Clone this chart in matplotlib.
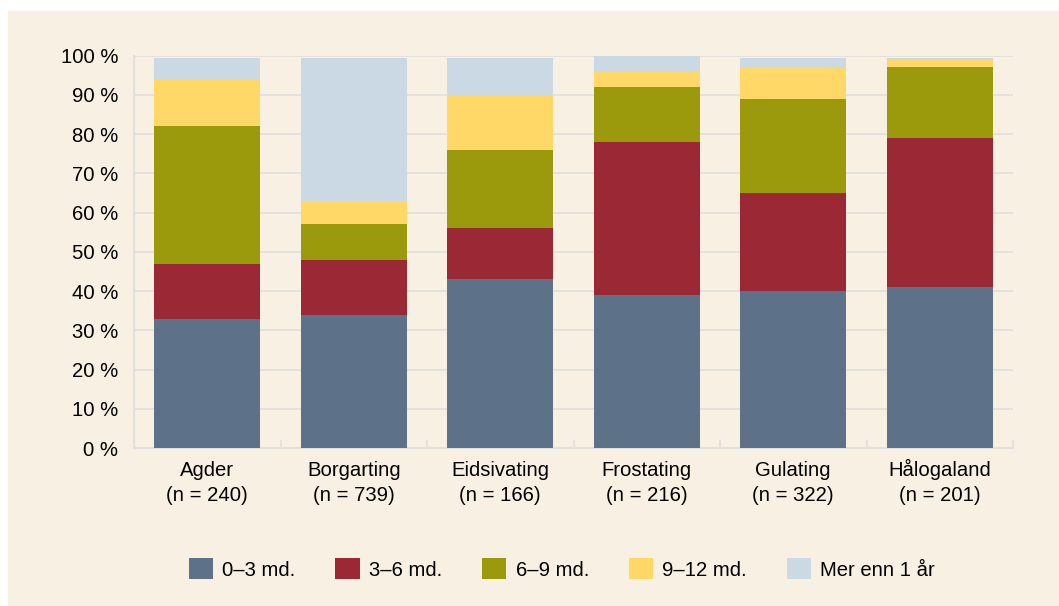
import matplotlib
matplotlib.use('Agg')
import matplotlib.pyplot as plt
import numpy as np
from matplotlib.patches import Rectangle, Patch

plt.rcParams['font.family'] = ['Liberation Sans', 'DejaVu Sans']

# Data (share of cases in %)
courts = ['Agder', 'Borgarting', 'Eidsivating', 'Frostating', 'Gulating', 'Hålogaland']
counts = [240, 739, 166, 216, 322, 201]
series = ['0–3 md.', '3–6 md.', '6–9 md.', '9–12 md.', 'Mer enn 1 år']
m0_3 = [33, 34, 43, 39, 40, 41]
m3_6 = [14, 14, 13, 39, 25, 38]
m6_9 = [35, 9, 20, 14, 24, 18]
m9_12 = [12, 6, 14, 4, 8, 2]
over_1y = [5.5, 36.5, 9.5, 4, 2.5, 0.5]
yticks = list(range(0, 101, 10))

colors = ['#5D7289', '#9B2835', '#9B990C', '#FFD868', '#CBD9E5']
bg = '#F8F0E2'
grid_col = '#E2DFDC'
fs = 14.6

fig = plt.figure(figsize=(10.59, 6.06), dpi=100, facecolor='white')
# cream panel with a thin white margin top/left
fig.patches.append(Rectangle((8 / 1059, 0), 1, 1 - 11 / 606, transform=fig.transFigure,
                             facecolor=bg, edgecolor='none', zorder=-10))

ax_h = (448 - 55.7) / 606
ax = fig.add_axes([134 / 1059, 1 - 448 / 606, 879 / 1059, ax_h])
ax.set_facecolor(bg)

x = np.arange(len(courts))
bottom = np.zeros(len(courts))
for vals, col, name in zip([m0_3, m3_6, m6_9, m9_12, over_1y], colors, series):
    ax.bar(x, vals, width=0.724, bottom=bottom, color=col, label=name, zorder=3)
    bottom += np.array(vals)

ax.set_xlim(-0.5, len(courts) - 0.5)
ax.set_ylim(0, 100)
ax.set_yticks(yticks)
ax.set_yticklabels([f'{v} %' for v in yticks], fontsize=fs)
ax.tick_params(axis='y', length=0, pad=11.5)
ax.yaxis.grid(True, color=grid_col, linewidth=1.2, zorder=0)

# category labels: two lines, baseline-aligned so "Hålogaland" sits level with the rest
ax.set_xticks(x)
ax.set_xticklabels([])
ax.tick_params(axis='x', which='major', length=0)
px_to_ax = 1 / (ax_h * 606)
for xi, c, n in zip(x, courts, counts):
    ax.text(xi, -28 * px_to_ax, c, transform=ax.get_xaxis_transform(),
            ha='center', va='baseline', fontsize=fs)
    ax.text(xi, -53 * px_to_ax, f'(n = {n})', transform=ax.get_xaxis_transform(),
            ha='center', va='baseline', fontsize=fs)
ax.set_xticks(np.arange(-0.5, len(courts)), minor=True)
ax.tick_params(axis='x', which='minor', direction='in', length=6, width=1.2, color=grid_col)

for s in ['top', 'right']:
    ax.spines[s].set_visible(False)
for s in ['left', 'bottom']:
    ax.spines[s].set_color(grid_col)
    ax.spines[s].set_linewidth(1.5)

handles = [Patch(facecolor=c, edgecolor='none') for c in colors]
fig.legend(handles, series, loc='center', bbox_to_anchor=(562 / 1059, 1 - 569 / 606),
           ncol=5, frameon=False, fontsize=fs, handlelength=1.2, handleheight=1.2,
           handletextpad=0.45, columnspacing=1.97)

fig.savefig('out.png', dpi=100, facecolor=fig.get_facecolor())
